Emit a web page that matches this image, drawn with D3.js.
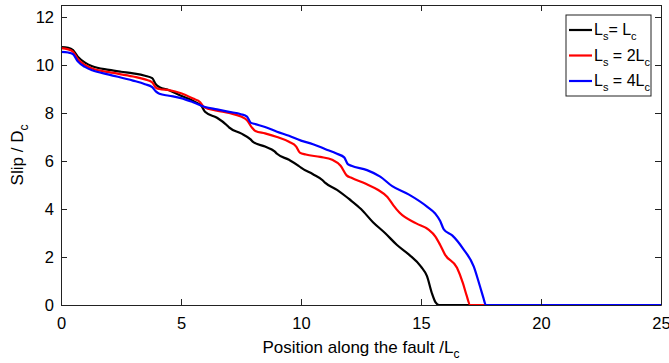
<!DOCTYPE html>
<html>
<head>
<meta charset="utf-8">
<script src="https://cdn.jsdelivr.net/npm/d3@7"></script>
<style>
	body { margin: 0; background: #fff; }
	text { font-family: "Liberation Sans", Arial, sans-serif; fill: #000; }
</style>
</head>
<body>
<svg id="vis" width="669" height="363"></svg>
<script>
// slip profiles
const xBlack = [0, 0.3, 0.5, 0.7, 1.0, 1.3, 2.0, 2.5, 3.0, 3.5, 3.8, 3.95, 4.1, 4.5, 5.0, 5.3, 5.6, 5.85, 6.0, 6.5, 6.9, 7.0, 7.5, 7.9, 8.0, 8.5, 8.9, 9.0, 9.5, 9.9, 10.0, 10.5, 10.9, 11.0, 11.5, 11.9, 12.0, 12.5, 13.0, 13.5, 14.0, 14.5, 15.0, 15.25, 15.45, 15.6, 15.75, 25];
const yBlack = [10.75, 10.72, 10.62, 10.35, 10.1, 9.95, 9.8, 9.72, 9.65, 9.55, 9.45, 9.2, 9.08, 8.95, 8.72, 8.6, 8.45, 8.3, 8.05, 7.8, 7.5, 7.4, 7.15, 6.9, 6.8, 6.6, 6.4, 6.3, 6.05, 5.8, 5.72, 5.45, 5.2, 5.1, 4.8, 4.5, 4.42, 4.0, 3.45, 3.0, 2.5, 2.1, 1.6, 1.2, 0.5, 0.12, 0, 0];

const xRed = [0, 0.3, 0.5, 0.7, 1.0, 1.3, 2, 3, 3.5, 3.8, 3.95, 4.1, 4.5, 5.0, 5.5, 5.8, 5.95, 6.5, 7.0, 7.5, 7.75, 7.95, 8.1, 8.5, 9.0, 9.5, 9.8, 9.95, 10.2, 10.8, 11.3, 11.65, 11.9, 12.1, 12.7, 13.2, 13.6, 13.85, 14.1, 14.8, 15.3, 15.6, 15.8, 16.0, 16.5, 16.75, 16.9, 17.05, 25];
const yRed = [10.7, 10.65, 10.55, 10.25, 10.0, 9.85, 9.7, 9.52, 9.4, 9.28, 9.06, 9.0, 8.95, 8.82, 8.6, 8.45, 8.25, 8.1, 8.0, 7.85, 7.7, 7.4, 7.25, 7.15, 7.0, 6.8, 6.6, 6.35, 6.27, 6.17, 6.05, 5.8, 5.4, 5.3, 5.05, 4.8, 4.5, 4.15, 3.85, 3.4, 3.15, 2.85, 2.5, 2.1, 1.55, 0.9, 0.4, 0, 0];

const xBlue = [0, 0.3, 0.5, 0.7, 1.0, 1.3, 2, 3, 3.5, 3.8, 3.95, 4.1, 4.5, 5, 5.5, 6.0, 6.5, 7.0, 7.5, 7.75, 7.9, 8.05, 8.5, 9.0, 9.5, 10.0, 10.5, 11.0, 11.5, 11.8, 11.95, 12.1, 12.75, 13.3, 13.8, 14.5, 15.25, 15.6, 15.8, 15.95, 16.3, 16.75, 17.2, 17.45, 17.6, 17.7, 25];
const yBlue = [10.55, 10.52, 10.45, 10.15, 9.92, 9.78, 9.6, 9.35, 9.2, 9.08, 8.9, 8.8, 8.72, 8.62, 8.45, 8.25, 8.15, 8.05, 7.95, 7.85, 7.6, 7.55, 7.42, 7.22, 7.05, 6.85, 6.7, 6.5, 6.3, 6.15, 5.87, 5.8, 5.62, 5.35, 4.95, 4.6, 4.1, 3.8, 3.5, 3.15, 2.9, 2.35, 1.6, 0.8, 0.3, 0, 0];

const xTicks = [0, 5, 10, 15, 20, 25];
const yTicks = [0, 2, 4, 6, 8, 10, 12];

const series = [
	{ mult: "", eq: "= ", x: xBlack, y: yBlack, color: "#000000" },
	{ mult: "2", eq: " = ", x: xRed, y: yRed, color: "#ff0000" },
	{ mult: "4", eq: " = ", x: xBlue, y: yBlue, color: "#0000ff" }
];

const margin = { top: 5, left: 61 };
const width = 600, height = 300;

const svg = d3.select("svg#vis");
const plot = svg.append("g").attr("transform", translate(margin.left, margin.top));

const x = d3.scaleLinear().domain([0, 25]).range([0, width]);
const y = d3.scaleLinear().domain([0, 12.5]).range([height, 0]);

// curves (black first, blue on top)
const line = d3.line()
	.x(d => x(d[0]))
	.y(d => y(d[1]))
	.curve(d3.curveMonotoneX);

plot.selectAll("path.slip")
	.data(series)
	.enter()
	.append("path")
	.attr("class", "slip")
	.attr("fill", "none")
	.attr("stroke", d => d.color)
	.attr("stroke-width", 2.2)
	.attr("stroke-linejoin", "round")
	.attr("d", d => line(d.x.map((v, i) => [v, d.y[i]])));

// axes, ticks inward on all four sides
const tickLen = 6;
const axisStyle = g => {
	g.select(".domain").attr("stroke", "#222").attr("stroke-width", 1);
	g.selectAll(".tick line").attr("stroke", "#222");
	g.selectAll("text").attr("font-family", "Liberation Sans, Arial, sans-serif")
		.attr("font-size", 16.5).attr("fill", "#000");
};

plot.append("g")
	.attr("transform", translate(0, height))
	.call(d3.axisBottom(x).tickValues(xTicks).tickSize(-tickLen).tickSizeOuter(0).tickPadding(12))
	.call(axisStyle);

plot.append("g")
	.call(d3.axisTop(x).tickValues(xTicks).tickSize(-tickLen).tickSizeOuter(0).tickFormat(""))
	.call(axisStyle);

plot.append("g")
	.call(d3.axisLeft(y).tickValues(yTicks).tickSize(-tickLen).tickSizeOuter(0).tickPadding(7))
	.call(axisStyle);

plot.append("g")
	.attr("transform", translate(width, 0))
	.call(d3.axisRight(y).tickValues(yTicks).tickSize(-tickLen).tickSizeOuter(0).tickFormat(""))
	.call(axisStyle);

// axis labels
const xLabel = svg.append("text")
	.attr("x", margin.left + width / 2)
	.attr("y", 353)
	.attr("text-anchor", "middle")
	.attr("font-size", 17);
xLabel.append("tspan").text("Position along the fault /L");
xLabel.append("tspan").attr("font-size", 12).attr("dy", 5).text("c");

const yLabel = svg.append("text")
	.attr("transform", translate(23, margin.top + height / 2) + " rotate(-90)")
	.attr("text-anchor", "middle")
	.attr("font-size", 17);
yLabel.append("tspan").text("Slip / D");
yLabel.append("tspan").attr("font-size", 12).attr("dy", 5).text("c");

// legend
const legend = svg.append("g").attr("transform", translate(566, 15));
legend.append("rect")
	.attr("width", 85)
	.attr("height", 81)
	.attr("fill", "#fff")
	.attr("stroke", "#222")
	.attr("stroke-width", 1);

const entry = legend.selectAll("g.entry")
	.data(series)
	.enter()
	.append("g")
	.attr("class", "entry")
	.attr("transform", (d, i) => translate(0, 15 + i * 25.5));

entry.append("line")
	.attr("x1", 3).attr("x2", 26)
	.attr("stroke", d => d.color)
	.attr("stroke-width", 2.2);

const label = entry.append("text")
	.attr("x", 28)
	.attr("y", 5)
	.attr("font-size", 16);
label.append("tspan").text("L");
label.append("tspan").attr("font-size", 11).attr("dy", 5).text("s");
label.append("tspan").attr("dy", -5).text(d => d.eq + d.mult + "L");
label.append("tspan").attr("font-size", 11).attr("dy", 5).text("c");

function translate(x, y) {
	return "translate(" + x + "," + y + ")";
}
</script>
</body>
</html>
